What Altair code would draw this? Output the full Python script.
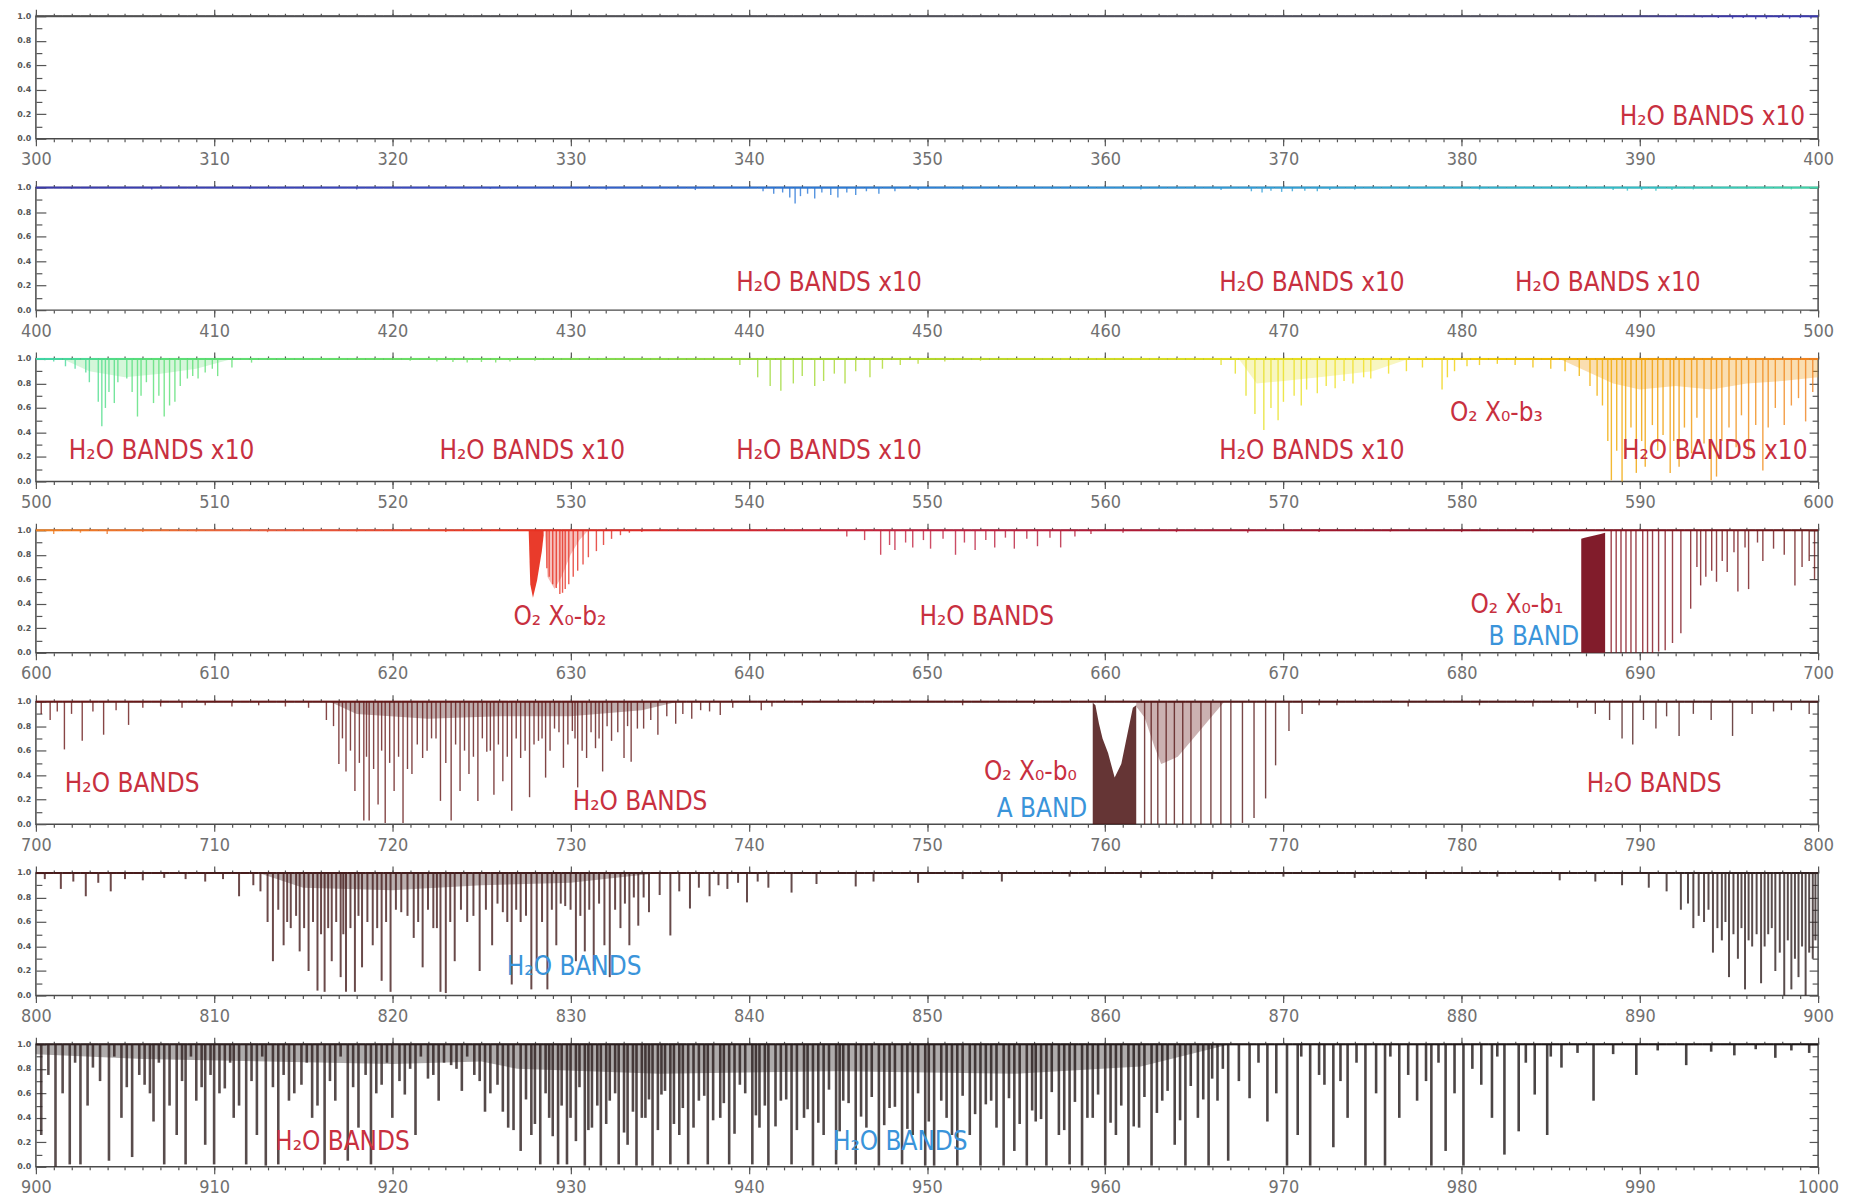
import altair as alt
import pandas as pd

# ---------------- colour ramp along wavelength (nm) ----------------
COLOR_WL = [300, 385, 395, 420, 443, 470, 490, 500, 506, 525, 545, 565, 575, 582, 590, 600,
            612, 628, 650, 687, 700, 760, 800, 900, 1000]
COLOR_HEX = ['#505050', '#505060', '#3a36a8', '#3a48c0', '#2a78d8', '#30a0d8', '#30c0c8',
             '#40d8a8', '#58e078', '#70e060', '#a8d830', '#e0e020', '#f0e020', '#f0c800',
             '#f0a000', '#f08020', '#e86040', '#e83020', '#c02040', '#8a1020', '#6a1818',
             '#5a1818', '#4a1c1c', '#302020', '#1a1414']

# ---------------- absorption lines: wavelength (nm) and minimum transmission ----------------
P1_WL = [393.5, 394.4, 395.2, 395.8, 396.5, 397.1, 397.8, 398.4, 399.0, 399.6]
P1_T = [0.99, 0.985, 0.98, 0.985, 0.975, 0.98, 0.985, 0.98, 0.985, 0.98]

P2_WL = [402.0, 406.5, 412.0, 418.0, 425.5, 432.0, 437.0, 440.8, 441.4, 441.9, 442.3, 442.6,
         442.9, 443.3, 443.7, 444.1, 444.6, 445.0, 445.5, 446.0, 446.6, 447.3, 448.2, 449.5,
         452.0, 457.0, 462.0, 466.5, 468.2, 468.8, 469.3, 469.9, 470.5, 471.2, 471.9, 472.6,
         474.0, 477.0, 481.0, 485.0, 488.5, 489.3, 490.1, 490.9, 491.8, 493.0, 496.0, 498.5]
P2_T = [0.99, 0.985, 0.99, 0.985, 0.99, 0.985, 0.98, 0.97, 0.95, 0.96, 0.92, 0.87,
        0.93, 0.95, 0.91, 0.96, 0.94, 0.92, 0.96, 0.94, 0.97, 0.95, 0.97, 0.98,
        0.985, 0.99, 0.985, 0.98, 0.97, 0.96, 0.975, 0.965, 0.97, 0.975, 0.97, 0.98,
        0.985, 0.99, 0.985, 0.99, 0.98, 0.975, 0.98, 0.975, 0.98, 0.985, 0.99, 0.985]

P3_WL = [500.5, 501.0, 501.66, 502.2, 502.8, 503.0, 503.5, 503.7, 503.9, 504.1, 504.4, 504.6,
         505.1, 505.4, 505.7, 505.9, 506.2, 506.6, 506.9, 507.2, 507.5, 507.8, 508.1, 508.5,
         508.8, 509.1, 509.5, 509.9, 510.2, 511.0, 512.1,
         521.0, 522.5, 523.4, 524.2, 525.0, 525.8, 526.6, 528.0,
         539.5, 540.5, 541.2, 541.8, 542.5, 543.0, 543.7, 544.2, 544.8, 545.4, 546.0, 546.8,
         547.5, 548.5, 549.5, 551.0, 553.0,
         566.5, 567.3, 567.9, 568.4, 568.9, 569.3, 569.7, 570.0, 570.6, 571.0, 571.3, 571.9,
         572.4, 572.9, 573.4, 573.9, 574.5, 574.9, 575.9, 576.9, 577.8,
         578.9, 579.2, 579.6, 580.3, 581.0, 582.0, 583.0, 584.0, 585.0, 585.8,
         586.6, 587.2, 587.6, 587.9, 588.2, 588.4, 588.7, 589.0, 589.2, 589.5, 589.8, 590.1,
         590.3, 590.7, 591.0, 591.3, 591.7, 591.9, 592.2, 592.5, 592.9, 593.2, 593.6, 594.0,
         594.3, 594.6, 595.0, 595.4, 595.7, 596.1, 596.5, 596.9, 597.2, 597.6, 598.1, 598.5,
         598.9, 599.3, 599.7]
P3_T = [0.99, 0.98, 0.94, 0.92, 0.89, 0.81, 0.65, 0.45, 0.60, 0.73, 0.64, 0.81,
        0.84, 0.73, 0.53, 0.70, 0.81, 0.64, 0.70, 0.53, 0.62, 0.65, 0.78, 0.84,
        0.86, 0.84, 0.89, 0.92, 0.86, 0.93, 0.97,
        0.985, 0.98, 0.975, 0.97, 0.975, 0.97, 0.98, 0.985,
        0.95, 0.85, 0.78, 0.74, 0.80, 0.86, 0.78, 0.82, 0.88, 0.80, 0.90, 0.85,
        0.92, 0.95, 0.96, 0.98, 0.985,
        0.95, 0.88, 0.70, 0.55, 0.42, 0.60, 0.50, 0.65, 0.70, 0.62, 0.75, 0.72,
        0.78, 0.76, 0.82, 0.80, 0.85, 0.84, 0.88, 0.90, 0.93,
        0.75, 0.85, 0.90, 0.94, 0.95, 0.96, 0.95, 0.93, 0.92, 0.90,
        0.86, 0.78, 0.70, 0.62, 0.33, 0.01, 0.25, 0.0, 0.20, 0.44, 0.07, 0.33,
        0.12, 0.46, 0.25, 0.38, 0.07, 0.33, 0.12, 0.44, 0.23, 0.52, 0.31, 0.01,
        0.04, 0.33, 0.44, 0.28, 0.54, 0.20, 0.46, 0.09, 0.44, 0.60, 0.46, 0.62,
        0.68, 0.49, 0.73]

P4_WL = [601.0, 602.5, 604.0, 606.0, 609.0, 613.0, 618.0, 623.0,
         628.67, 628.8, 629.0, 629.2, 629.4, 629.55, 629.7, 629.9, 630.15, 630.4, 630.7, 631.0,
         631.45, 631.85, 632.3, 632.8, 633.3, 634.0,
         645.5, 646.5, 647.4, 647.9, 648.2, 648.8, 649.2, 649.8, 650.2, 650.9, 651.6, 652.1,
         652.7, 653.3, 653.8, 654.4, 654.9, 655.6, 656.2, 656.9, 657.5, 658.3, 659.2, 661.0,
         664.0, 668.0, 672.0, 676.0, 680.0, 684.0,
         688.39, 688.67, 688.94, 689.22, 689.5, 689.78, 690.16, 690.43, 690.71, 691.05, 691.42,
         691.83, 692.3, 692.85, 693.41, 694.03, 694.62, 695.28, 695.9, 696.6,
         693.2, 693.7, 694.3, 694.9, 695.5, 696.1, 696.9, 697.5, 698.1, 698.7, 699.1, 699.5, 699.8]
P4_T = [0.97, 0.98, 0.97, 0.985, 0.99, 0.985, 0.99, 0.985,
        0.69, 0.62, 0.56, 0.53, 0.48, 0.49, 0.52, 0.56, 0.62, 0.67, 0.72, 0.78,
        0.83, 0.88, 0.93, 0.96, 0.98, 0.985,
        0.95, 0.92, 0.80, 0.88, 0.84, 0.90, 0.86, 0.92, 0.85, 0.93, 0.80, 0.90,
        0.84, 0.92, 0.86, 0.94, 0.85, 0.93, 0.87, 0.94, 0.86, 0.95, 0.97, 0.98,
        0.985, 0.98, 0.985, 0.99, 0.985, 0.98,
        0.0, 0.0, 0.0, 0.0, 0.0, 0.0, 0.0, 0.0, 0.0, 0.01, 0.02,
        0.08, 0.16, 0.36, 0.55, 0.67, 0.75, 0.82, 0.86, 0.90,
        0.70, 0.62, 0.58, 0.66, 0.50, 0.52, 0.75, 0.85, 0.80, 0.55, 0.70, 0.75, 0.60]

P5_WL = [700.3, 700.8, 701.2, 701.6, 702.0, 702.6, 703.2, 703.8, 704.5, 705.2, 706.0, 707.0,
         708.2, 709.5, 711.0, 712.5, 714.0, 715.3, 716.3, 717.0, 717.4, 717.9, 718.4, 718.7,
         719.2, 719.6, 720.1, 720.6, 721.1, 721.7, 722.2, 722.7, 723.3, 723.8, 724.3, 724.8,
         725.3, 725.7, 726.2, 726.7, 727.2, 727.7, 728.2, 728.6, 729.1, 729.6, 730.1, 730.4,
         730.9, 731.4, 731.8, 732.3, 733.0, 733.4, 734.1, 734.9, 735.9, 736.8, 737.8, 738.4,
         739.1, 740.7, 741.3, 743.0, 747.0, 752.0, 756.0,
         762.21, 762.58, 762.95, 763.42, 763.88, 764.35, 764.81, 765.37, 765.93, 766.49, 767.05,
         767.7, 768.35, 769.0, 769.56, 770.31, 771.05, 772.0,
         773.0, 777.0, 781.0, 784.0, 786.5, 787.5, 788.3, 789.0, 789.6, 790.2, 790.9, 791.5,
         792.2, 793.0, 794.0, 795.2, 796.3, 797.5, 798.5, 799.5]
P5_T = [0.90, 0.85, 0.92, 0.61, 0.90, 0.68, 0.92, 0.73, 0.93, 0.81, 0.95, 0.96,
        0.95, 0.97, 0.96, 0.97, 0.96, 0.95, 0.85, 0.49, 0.43, 0.27, 0.03, 0.03,
        0.16, 0.01, 0.27, 0.01, 0.41, 0.54, 0.70, 0.19, 0.03, 0.27, 0.41, 0.19,
        0.59, 0.24, 0.35, 0.11, 0.54, 0.22, 0.68, 0.38, 0.78, 0.46, 0.76, 0.30,
        0.54, 0.62, 0.43, 0.68, 0.54, 0.51, 0.78, 0.73, 0.82, 0.86, 0.92, 0.89,
        0.95, 0.93, 0.96, 0.97, 0.98, 0.97, 0.98,
        0.0, 0.0, 0.0, 0.0, 0.0, 0.0, 0.0, 0.0, 0.0, 0.0, 0.0,
        0.01, 0.05, 0.21, 0.48, 0.76, 0.90, 0.97,
        0.97, 0.96, 0.97, 0.96, 0.95, 0.90, 0.85, 0.70, 0.65, 0.85, 0.78, 0.88,
        0.72, 0.90, 0.85, 0.72, 0.90, 0.92, 0.93, 0.90]
# weaker lines filling the 716-738 nm water band
P5B_WL = [716.7, 717.2, 717.65, 718.15, 718.55, 718.95, 719.4, 719.85, 720.35, 720.85, 721.4,
          721.95, 722.45, 723.0, 723.55, 724.05, 724.55, 725.05, 725.5, 725.95, 726.45, 726.95,
          727.45, 727.95, 728.4, 728.85, 729.35, 729.85, 730.25, 730.65, 731.15, 731.6, 732.05,
          732.65, 733.2, 733.75, 734.5, 735.4, 736.3, 737.3]
P5B_T = [0.80, 0.70, 0.60, 0.50, 0.55, 0.45, 0.60, 0.50, 0.55, 0.45, 0.65,
         0.60, 0.70, 0.50, 0.65, 0.60, 0.55, 0.70, 0.60, 0.65, 0.55, 0.70,
         0.60, 0.65, 0.70, 0.60, 0.75, 0.65, 0.70, 0.60, 0.75, 0.70, 0.80,
         0.75, 0.80, 0.78, 0.85, 0.88, 0.90, 0.93]

P6_WL = [800.5, 801.4, 802.1, 802.8, 803.5, 804.2, 805.0, 806.0, 807.2, 808.4, 809.5, 810.5,
         811.4, 812.2, 813.0, 813.3, 813.9, 814.3, 814.8, 815.3, 815.8, 816.2, 816.6, 817.1,
         817.4, 817.9, 818.3, 818.9, 819.4, 819.9, 820.5, 821.2, 821.7, 822.3, 822.7, 823.0,
         823.5, 824.2, 824.9, 825.6, 826.2, 826.7, 827.2, 827.8, 828.1, 828.7, 829.2, 829.7,
         830.3, 830.8, 831.3, 831.9, 832.2, 832.8, 833.3, 833.8, 834.4, 835.6, 836.7, 837.8,
         838.8, 839.9, 841.1, 842.4, 843.8, 846.0, 847.0, 849.5, 852.0, 854.2, 858.0, 862.0,
         866.0, 870.0, 874.0, 878.0, 882.0, 885.5, 887.5, 889.0, 890.5, 891.5, 892.3, 893.0,
         893.6, 894.1, 894.6, 895.0, 895.5, 895.9, 896.3, 896.8, 897.2, 897.6, 898.1, 898.5,
         898.9, 899.3, 899.7]
P6_T = [0.95, 0.87, 0.93, 0.81, 0.92, 0.85, 0.95, 0.94, 0.96, 0.95, 0.93, 0.95,
        0.81, 0.90, 0.60, 0.28, 0.41, 0.55, 0.36, 0.20, 0.04, 0.03, 0.28, 0.15,
        0.03, 0.03, 0.23, 0.41, 0.12, 0.03, 0.68, 0.47, 0.23, 0.55, 0.03, 0.02,
        0.28, 0.60, 0.20, 0.41, 0.68, 0.09, 0.60, 0.05, 0.20, 0.05, 0.41, 0.73,
        0.28, 0.36, 0.20, 0.41, 0.15, 0.55, 0.41, 0.57, 0.68, 0.49, 0.71, 0.81,
        0.87, 0.76, 0.88, 0.84, 0.91, 0.89, 0.93, 0.92, 0.95, 0.93, 0.97, 0.96,
        0.95, 0.97, 0.96, 0.95, 0.97, 0.94, 0.93, 0.90, 0.88, 0.85, 0.70, 0.55,
        0.60, 0.35, 0.45, 0.15, 0.30, 0.05, 0.40, 0.10, 0.50, 0.20, 0.0, 0.05,
        0.15, 0.0, 0.30]
P6B_WL = [812.6, 813.6, 814.1, 814.6, 815.05, 815.55, 816.0, 816.4, 816.85, 817.25, 817.65,
          818.1, 818.6, 819.15, 819.65, 820.2, 820.85, 821.45, 822.0, 822.5, 823.25, 823.85,
          824.55, 825.25, 825.9, 826.45, 826.95, 827.5, 828.4, 828.95, 829.45, 830.0, 830.55,
          831.05, 831.6, 832.5, 833.05, 833.55, 834.1, 835.0, 836.1, 837.2, 838.3, 839.4,
          840.5, 892.7, 893.3, 893.85, 894.35, 894.8, 895.25, 895.7, 896.1, 896.55, 897.0,
          897.4, 897.85, 898.3, 898.7, 899.1, 899.5, 899.85]
P6B_T = [0.85, 0.70, 0.60, 0.65, 0.55, 0.60, 0.50, 0.55, 0.60, 0.50, 0.55,
         0.65, 0.60, 0.55, 0.60, 0.70, 0.65, 0.60, 0.70, 0.55, 0.60, 0.70,
         0.65, 0.70, 0.75, 0.60, 0.70, 0.65, 0.60, 0.70, 0.75, 0.70, 0.65,
         0.70, 0.75, 0.70, 0.75, 0.80, 0.80, 0.82, 0.85, 0.88, 0.90, 0.92,
         0.93, 0.75, 0.65, 0.70, 0.55, 0.60, 0.50, 0.55, 0.45, 0.50, 0.40,
         0.55, 0.35, 0.45, 0.30, 0.40, 0.35, 0.45]

P7_WL = [900.3, 901.1, 901.9, 902.5, 903.2, 904.1, 904.8, 905.4, 906.1, 906.6, 907.2, 907.9,
         908.4, 909.0, 909.5, 910.0, 910.6, 911.1, 911.8, 912.4, 912.9, 913.6, 914.2, 914.9,
         915.5, 916.2, 916.8, 917.5, 918.1, 918.8, 919.4, 920.0, 920.7, 921.3, 922.0, 922.6,
         923.3, 923.9, 924.6, 925.2, 925.9, 926.5, 927.2, 927.8, 928.3, 928.8, 929.3, 929.8,
         930.3, 930.8, 931.2, 931.7, 932.2, 932.7, 933.2, 933.7, 934.2, 934.6, 935.1, 935.6,
         936.1, 936.6, 937.2, 937.7, 938.4, 938.9, 939.5, 940.2, 940.6, 941.1, 941.8, 942.4,
         943.1, 943.6, 944.2, 944.9, 945.3, 946.0, 946.6, 947.3, 947.9, 948.6, 949.2, 949.9,
         950.4, 951.1, 951.7, 952.4, 953.0, 953.6, 954.3, 954.9, 955.6, 956.1, 956.7, 957.4,
         958.0, 958.7, 959.3, 960.0, 960.6, 961.3, 961.9, 962.6, 963.2, 963.9, 964.5, 965.2,
         965.8, 966.3, 966.9, 968.1, 969.1, 970.2, 970.8, 971.5, 972.3, 972.8, 973.6, 974.6,
         975.7, 976.5, 977.5, 978.3, 979.1, 980.1, 981.1, 981.7, 982.4, 983.2, 984.1, 984.8,
         985.6, 987.4, 989.8, 992.6, 995.3, 997.6, 999.5]
P7_T = [0.26, 0.0, 0.02, 0.02, 0.81, 0.05, 0.40, 0.08, 0.67, 0.37, 0.02, 0.26,
        0.02, 0.54, 0.18, 0.02, 0.64, 0.40, 0.02, 0.26, 0.01, 0.02, 0.54, 0.67,
        0.40, 0.02, 0.54, 0.05, 0.32, 0.02, 0.67, 0.40, 0.59, 0.26, 0.72, 0.54,
        0.83, 0.62, 0.75, 0.45, 0.67, 0.32, 0.13, 0.26, 0.02, 0.40, 0.02, 0.02,
        0.21, 0.01, 0.32, 0.01, 0.54, 0.02, 0.18, 0.01, 0.40, 0.01, 0.59, 0.02,
        0.26, 0.02, 0.54, 0.02, 0.40, 0.02, 0.67, 0.02, 0.32, 0.01, 0.54, 0.02,
        0.40, 0.01, 0.26, 0.02, 0.54, 0.02, 0.32, 0.01, 0.48, 0.02, 0.26, 0.01,
        0.01, 0.40, 0.01, 0.26, 0.01, 0.54, 0.01, 0.13, 0.01, 0.37, 0.01, 0.26,
        0.02, 0.01, 0.40, 0.01, 0.26, 0.01, 0.32, 0.01, 0.54, 0.18, 0.01, 0.40,
        0.01, 0.54, 0.05, 0.56, 0.37, 0.01, 0.26, 0.01, 0.67, 0.16, 0.40, 0.01,
        0.01, 0.40, 0.54, 0.01, 0.13, 0.01, 0.67, 0.40, 0.10, 0.29, 0.59, 0.26,
        0.81, 0.54, 0.75, 0.83, 0.91, 0.89, 0.93]
# weaker lines between the strong ones of the 900-1000 nm water band
P7B_WL = [900.7, 901.5, 902.2, 902.9, 903.6, 904.4, 905.1, 905.8, 906.4, 906.9,
          907.5, 908.2, 908.7, 909.3, 909.8, 910.3, 910.9, 911.4, 912.1, 912.7,
          913.3, 913.9, 914.5, 915.2, 915.8, 916.5, 917.1, 917.8, 918.5, 919.1,
          919.7, 920.4, 921.0, 921.6, 922.3, 922.9, 923.6, 924.2, 924.9, 925.5,
          926.2, 926.8, 927.5, 928.0, 928.6, 929.0, 929.5, 930.0, 930.5, 931.0,
          931.5, 932.0, 932.5, 933.0, 933.5, 934.0, 934.4, 934.9, 935.3, 935.8,
          936.3, 936.9, 937.5, 938.0, 938.6, 939.2, 939.8, 940.4, 940.9, 941.5,
          942.1, 942.7, 943.3, 943.9, 944.5, 945.1, 945.6, 946.3, 946.9, 947.6,
          948.2, 948.9, 949.5, 950.1, 950.8, 951.4, 952.0, 952.7, 953.3, 953.9,
          954.6, 955.2, 955.9, 956.4, 957.0, 957.7, 958.3, 959.0, 959.6, 960.3,
          960.9, 961.6, 962.2, 962.9, 963.5, 964.2, 964.8, 965.5, 966.0, 966.6,
          967.5, 968.6, 969.6, 971.0, 972.0, 973.2, 974.1, 975.2, 976.0, 977.0,
          978.0, 978.7, 979.6, 980.6, 982.0, 983.6, 985.0, 986.5, 988.5, 991.0,
          994.0, 996.5, 998.5]
P7B_T = [0.75, 0.60, 0.85, 0.50, 0.70, 0.90, 0.65, 0.75, 0.60, 0.85,
         0.50, 0.70, 0.90, 0.65, 0.75, 0.60, 0.85, 0.50, 0.70, 0.90,
         0.65, 0.75, 0.60, 0.85, 0.50, 0.70, 0.90, 0.65, 0.75, 0.60,
         0.85, 0.70, 0.80, 0.90, 0.75, 0.85, 0.80, 0.90, 0.70, 0.60,
         0.45, 0.30, 0.55, 0.35, 0.60, 0.25, 0.50, 0.40, 0.65, 0.30,
         0.50, 0.35, 0.60, 0.28, 0.45, 0.40, 0.55, 0.30, 0.62, 0.35,
         0.48, 0.32, 0.58, 0.38, 0.52, 0.27, 0.60, 0.42, 0.50, 0.33,
         0.55, 0.30, 0.47, 0.36, 0.63, 0.29, 0.52, 0.41, 0.57, 0.34,
         0.49, 0.31, 0.60, 0.37, 0.54, 0.26, 0.58, 0.43, 0.51, 0.32,
         0.56, 0.35, 0.46, 0.39, 0.61, 0.30, 0.53, 0.40, 0.59, 0.36,
         0.50, 0.33, 0.57, 0.44, 0.62, 0.38, 0.66, 0.55, 0.72, 0.80,
         0.70, 0.85, 0.60, 0.90, 0.75, 0.70, 0.85, 0.60, 0.90, 0.75,
         0.70, 0.85, 0.60, 0.80, 0.90, 0.85, 0.90, 0.93, 0.92, 0.95,
         0.94, 0.96, 0.95]

# ---------------- filled band regions ----------------
# band heads filled from 0 up to an envelope
BHEAD_WL = [686.71, 686.9, 687.2, 687.5, 687.8, 688.05]
BHEAD_TOP = [0.93, 0.94, 0.95, 0.96, 0.97, 0.98]
AHEAD_WL = [759.30, 759.45, 759.65, 759.85, 760.16, 760.53, 760.90, 761.28, 761.55, 761.74]
AHEAD_TOP = [0.99, 0.97, 0.82, 0.70, 0.58, 0.38, 0.49, 0.76, 0.95, 0.97]
# absorption hanging from 1.0 down to an envelope
B2HEAD_WL = [627.65, 627.70, 627.74, 627.89, 628.12, 628.39, 628.49]
B2HEAD_BOT = [1.0, 0.75, 0.56, 0.45, 0.59, 0.83, 0.96]
B2TAIL_WL = [628.55, 628.7, 629.1, 629.5, 630.0, 630.5, 631.0]
B2TAIL_BOT = [1.0, 0.62, 0.52, 0.62, 0.80, 0.92, 1.0]
APB_WL = [761.74, 762.21, 762.77, 763.14, 764.07, 765.0, 765.93, 766.68]
APB_BOT = [0.96, 0.87, 0.63, 0.49, 0.55, 0.71, 0.87, 1.0]
GREEN_WL = [501.5, 503.0, 505.0, 507.0, 509.0, 511.0]
GREEN_BOT = [1.0, 0.90, 0.85, 0.88, 0.92, 1.0]
YELLOW_WL = [567.5, 568.5, 570.0, 572.0, 575.0, 577.0]
YELLOW_BOT = [1.0, 0.80, 0.82, 0.85, 0.90, 1.0]
ORANGE_WL = [585.5, 587.0, 588.5, 590.0, 592.0, 594.0, 596.0, 598.0, 599.99]
ORANGE_BOT = [1.0, 0.90, 0.80, 0.75, 0.78, 0.75, 0.80, 0.82, 0.85]
# dark fringe of unresolved weak lines just under the continuum
H2O720_WL = [716.5, 718.0, 722.0, 726.0, 730.0, 734.0, 736.0]
H2O720_BOT = [1.0, 0.90, 0.86, 0.88, 0.88, 0.93, 1.0]
H2O820_WL = [812.5, 815.0, 820.0, 825.0, 830.0, 835.0]
H2O820_BOT = [1.0, 0.88, 0.86, 0.90, 0.92, 1.0]
H2O930_WL = [900.0, 906.0, 913.0, 920.0, 925.0, 927.0, 935.0, 945.0, 955.0, 962.0, 967.0]
H2O930_BOT = [0.92, 0.88, 0.86, 0.84, 0.86, 0.80, 0.76, 0.78, 0.76, 0.82, 1.0]

# ---------------- annotations ----------------
TEXT_WL = [394.07, 444.5, 471.6, 488.2, 507.05, 527.85, 544.5, 571.6, 594.2, 581.95,
           629.4, 653.35, 683.1, 684.05, 705.4, 733.9, 755.8, 756.45, 790.8, 830.2, 917.2, 948.5]
TEXT_Y = [0.18, 0.221, 0.221, 0.221, 0.25, 0.25, 0.25, 0.25, 0.25, 0.558,
          0.288, 0.288, 0.394, 0.125, 0.327, 0.183, 0.423, 0.125, 0.327, 0.231, 0.202, 0.202]
TEXT_STR = ['H₂O BANDS x10', 'H₂O BANDS x10', 'H₂O BANDS x10', 'H₂O BANDS x10',
            'H₂O BANDS x10', 'H₂O BANDS x10', 'H₂O BANDS x10', 'H₂O BANDS x10', 'H₂O BANDS x10',
            'O₂ X₀-b₃', 'O₂ X₀-b₂', 'H₂O BANDS', 'O₂ X₀-b₁', 'B BAND', 'H₂O BANDS', 'H₂O BANDS',
            'O₂ X₀-b₀', 'A BAND', 'H₂O BANDS', 'H₂O BANDS', 'H₂O BANDS', 'H₂O BANDS']
RED, BLUE = '#c8303f', '#3a94da'
TEXT_COL = [RED] * 13 + [BLUE] + [RED] * 3 + [BLUE] + [RED] + [BLUE] + [RED] + [BLUE]

# ---------------- tables ----------------
lines = pd.DataFrame({
    'wl': P1_WL + P2_WL + P3_WL + P4_WL + P5_WL + P5B_WL + P6_WL + P6B_WL + P7_WL + P7B_WL,
    't': P1_T + P2_T + P3_T + P4_T + P5_T + P5B_T + P6_T + P6B_T + P7_T + P7B_T,
})
lines['one'] = 1.0
lines['panel'] = ((lines['wl'] - 300) // 100).astype(int)
# stroke width: the infrared panels are drawn with heavier lines
lines['sw'] = 1.4
lines.loc[lines['panel'] == 5, 'sw'] = 2.0
lines.loc[lines['panel'] == 6, 'sw'] = 2.6

heads = []
for g, (wls, tops, col, op) in enumerate([(BHEAD_WL, BHEAD_TOP, '#7a1020', 0.95),
                                          (AHEAD_WL, AHEAD_TOP, '#4a1212', 0.85)]):
    for w, t in zip(wls, tops):
        heads.append({'grp': g, 'wl': w, 'lo': 0.0, 'hi': t, 'col': col, 'op': op})
heads = pd.DataFrame(heads)
heads['panel'] = ((heads['wl'] - 300) // 100).astype(int)

hangs = []
for g, (wls, bots, col, op) in enumerate([
        (B2HEAD_WL, B2HEAD_BOT, '#e83020', 0.95), (B2TAIL_WL, B2TAIL_BOT, '#ec7068', 0.45),
        (APB_WL, APB_BOT, '#6a2020', 0.35), (GREEN_WL, GREEN_BOT, '#70e080', 0.3),
        (YELLOW_WL, YELLOW_BOT, '#e8e030', 0.3), (ORANGE_WL, ORANGE_BOT, '#f0a020', 0.35),
        (H2O720_WL, H2O720_BOT, '#4a1414', 0.35), (H2O820_WL, H2O820_BOT, '#3a1a1a', 0.35),
        (H2O930_WL, H2O930_BOT, '#1a1010', 0.35)]):
    for w, b in zip(wls, bots):
        hangs.append({'grp': g, 'wl': w, 'lo': b, 'hi': 1.0, 'col': col, 'op': op})
hangs = pd.DataFrame(hangs)
hangs['panel'] = ((hangs['wl'] - 300) // 100).astype(int)

texts = pd.DataFrame({'wl': TEXT_WL, 'ty': TEXT_Y, 'txt': TEXT_STR, 'col': TEXT_COL})
texts['panel'] = ((texts['wl'] - 300) // 100).astype(int)

W, H = 1789, 123
color_scale = alt.Scale(domain=COLOR_WL, range=COLOR_HEX, interpolate='rgb')
Y_MAJOR = [0.0, 0.2, 0.4, 0.6, 0.8, 1.0]
Y_MINOR = [0.1, 0.3, 0.5, 0.7, 0.9]
TEXT_FONT = 'Liberation Sans Narrow, DejaVu Sans Condensed, Liberation Sans, sans-serif'


def panel(i):
    start = 300 + 100 * i
    xs = alt.Scale(domain=[start, start + 100], nice=False, zero=False)
    ys = alt.Scale(domain=[0, 1], nice=False, zero=False)
    major_x = list(range(start, start + 101, 10))
    minor_x = list(range(start, start + 101, 1))

    ax_bot_major = alt.Axis(orient='bottom', values=major_x, tickSize=7, labelPadding=5,
                            format='d', title=None, labelFontSize=18, labelFont=TEXT_FONT,
                            labelColor='#707070', labelBaseline='top')
    ax_bot_minor = alt.Axis(orient='bottom', values=minor_x, tickSize=3, labels=False, title=None)
    ax_top_major = alt.Axis(orient='top', values=major_x, tickSize=7, labels=False, title=None)
    ax_top_minor = alt.Axis(orient='top', values=minor_x, tickSize=3, labels=False, title=None)

    ay_labels = alt.Axis(orient='left', values=Y_MAJOR, ticks=False, labelPadding=5,
                         format='.1f', title=None, labelFontSize=8, labelFont='DejaVu Sans',
                         labelFontWeight='bold', labelColor='#555555')
    ay_l_major = alt.Axis(orient='right', offset=-W, values=Y_MAJOR, tickSize=10,
                          labels=False, title=None)
    ay_l_minor = alt.Axis(orient='right', offset=-W, values=Y_MINOR, tickSize=6,
                          labels=False, title=None)
    ay_r_major = alt.Axis(orient='left', offset=-W, values=Y_MAJOR, tickSize=9,
                          labels=False, title=None)
    ay_r_minor = alt.Axis(orient='left', offset=-W, values=Y_MINOR, tickSize=6,
                          labels=False, title=None)

    head_layer = alt.Chart(heads[heads['panel'] == i]).mark_area(strokeWidth=0).encode(
        x=alt.X('wl:Q', scale=xs, axis=ax_top_major),
        y=alt.Y('hi:Q', scale=ys, axis=ay_l_major),
        y2='lo:Q',
        detail='grp:N',
        color=alt.Color('col:N', scale=None),
        opacity=alt.Opacity('op:Q', scale=None),
    )
    hang_layer = alt.Chart(hangs[hangs['panel'] == i]).mark_area(strokeWidth=0).encode(
        x=alt.X('wl:Q', scale=xs, axis=ax_top_minor),
        y=alt.Y('hi:Q', scale=ys, axis=ay_l_minor),
        y2='lo:Q',
        detail='grp:N',
        color=alt.Color('col:N', scale=None),
        opacity=alt.Opacity('op:Q', scale=None),
    )
    rule_layer = alt.Chart(lines[lines['panel'] == i]).mark_rule(opacity=0.8).encode(
        x=alt.X('wl:Q', scale=xs, axis=ax_bot_minor),
        y=alt.Y('t:Q', scale=ys, axis=ay_r_major),
        y2='one:Q',
        color=alt.Color('wl:Q', scale=color_scale, legend=None),
        strokeWidth=alt.StrokeWidth('sw:Q', scale=None),
    )
    base_layer = alt.Chart(alt.sequence(start, start + 100, 0.5, as_='w')).transform_calculate(
        w2='datum.w + 0.5', one='1').mark_rule(strokeWidth=2).encode(
        x=alt.X('w:Q', scale=xs, axis=ax_bot_major),
        x2='w2:Q',
        y=alt.Y('one:Q', scale=ys, axis=ay_labels),
        color=alt.Color('w:Q', scale=color_scale, legend=None),
    )
    text_layer = alt.Chart(texts[texts['panel'] == i]).mark_text(
        font=TEXT_FONT, fontSize=26, baseline='middle', align='center').encode(
        x=alt.X('wl:Q', scale=xs, axis=None),
        y=alt.Y('ty:Q', scale=ys, axis=ay_r_minor),
        text='txt:N',
        color=alt.Color('col:N', scale=None),
    )
    return alt.layer(head_layer, hang_layer, rule_layer, base_layer, text_layer).resolve_axis(
        x='independent', y='independent').resolve_scale(color='independent').properties(
        width=W, height=H)


chart = alt.vconcat(*[panel(i) for i in range(7)], spacing=49, bounds='flush').properties(
    padding={'left': 8, 'top': -3, 'right': 5, 'bottom': 2}
).configure_view(
    stroke='#4a4a4a', strokeWidth=1.5
).configure_axis(
    grid=False, domain=False, labelFlush=False, labelOverlap=False,
    tickColor='#555555', tickWidth=1.2
)

chart.save('out.html', embed_options={'renderer': 'svg', 'actions': False})
